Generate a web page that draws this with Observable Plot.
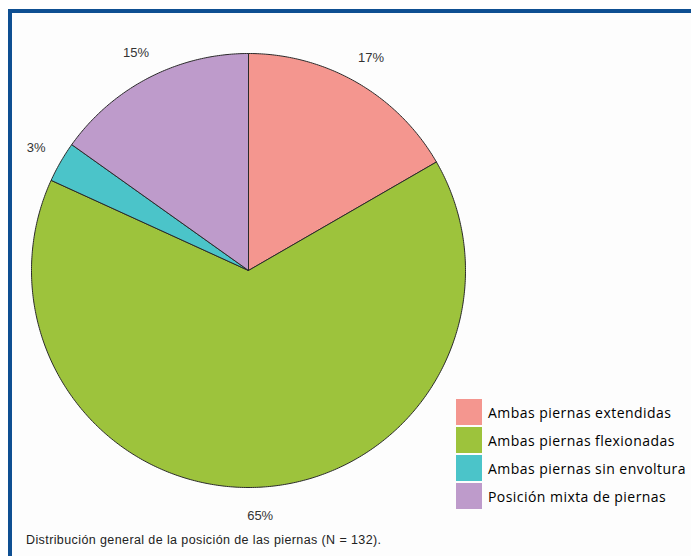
<!DOCTYPE html>
<html>
<head>
<meta charset="utf-8">
<script src="https://cdn.jsdelivr.net/npm/d3@7"></script>
<script src="https://cdn.jsdelivr.net/npm/@observablehq/plot@0.6"></script>
<style>
  html, body { margin: 0; padding: 0; background: #fff; width: 691px; height: 556px; overflow: hidden; }
  #frame { position: absolute; left: 8px; top: 9px; width: 720px; height: 600px;
           border-left: 4px solid #0E4F92; border-top: 4px solid #0E4F92; background: #fdfdfd; }
  #chart { position: absolute; left: 0; top: 0; }
  #legend { position: absolute; left: 456px; top: 398px; font-family: "Open Sans", sans-serif; font-size: 14px; letter-spacing: 0.45px; color: #000; }
  .item { display: flex; align-items: center; height: 28px; }
  .sw { width: 26px; height: 26px; margin-right: 6px; }
  #caption { position: absolute; left: 26px; top: 533px; font-family: "Liberation Sans", Arial, sans-serif; font-size: 12.5px; letter-spacing: 0.4px; color: #222; white-space: nowrap; }
</style>
</head>
<body>
<div id="frame"></div>
<div id="chart"></div>
<div id="legend"></div>
<div id="caption">Distribución general de la posición de las piernas (N = 132).</div>
<script>
const categories = ["Ambas piernas extendidas", "Ambas piernas flexionadas", "Ambas piernas sin envoltura", "Posición mixta de piernas"];
const counts = [22, 86, 4, 20];
const percentLabels = ["17%", "65%", "3%", "15%"];
const colors = ["#F4968F", "#9DC33C", "#4BC4C9", "#BE9BCB"];

const pie = d3.pie().sort(null).value(d => d)(counts);

// slice outlines (geometry derived from d3.pie angles)
const outline = [];
pie.forEach((p, i) => {
  const n = Math.max(4, Math.ceil((p.endAngle - p.startAngle) / 0.01));
  outline.push({cat: categories[i], x: 0, y: 0});
  for (let k = 0; k <= n; k++) {
    const a = p.startAngle + (p.endAngle - p.startAngle) * k / n;
    outline.push({cat: categories[i], x: Math.sin(a), y: Math.cos(a)});
  }
  outline.push({cat: categories[i], x: 0, y: 0});
});

const labels = pie.map((p, i) => {
  const a = (p.startAngle + p.endAngle) / 2;
  return {label: percentLabels[i], x: 1.13 * Math.sin(a), y: 1.13 * Math.cos(a)};
});

const plot = Plot.plot({
  width: 691,
  height: 556,
  margin: 0,
  style: {background: "transparent", overflow: "visible"},
  x: {domain: [-1, 1], range: [31, 465], axis: null},
  y: {domain: [-1, 1], range: [487, 53], axis: null},
  color: {domain: categories, range: colors},
  marks: [
    Plot.line(outline, {x: "x", y: "y", z: "cat", fill: "cat", stroke: "#2a2a2a", strokeWidth: 1, curve: "linear"}),
    Plot.text(labels, {x: "x", y: "y", text: "label", fontSize: 13, fill: "#333", fontFamily: "Liberation Sans, Arial, sans-serif"})
  ]
});
document.getElementById("chart").appendChild(plot);

const legend = document.getElementById("legend");
categories.forEach((c, i) => {
  const row = document.createElement("div");
  row.className = "item";
  const sw = document.createElement("div");
  sw.className = "sw";
  sw.style.background = colors[i];
  const t = document.createElement("span");
  t.textContent = c;
  row.appendChild(sw);
  row.appendChild(t);
  legend.appendChild(row);
});
</script>
</body>
</html>
